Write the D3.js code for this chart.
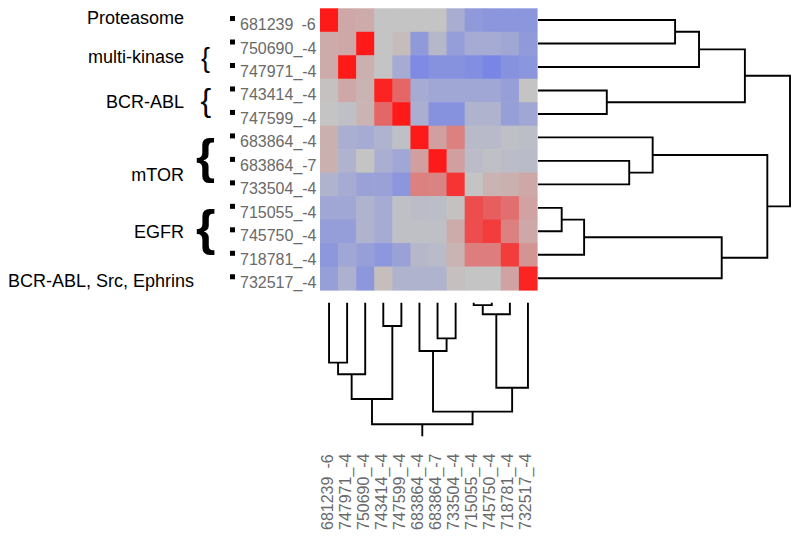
<!DOCTYPE html>
<html><head><meta charset="utf-8">
<script src="https://cdn.jsdelivr.net/npm/d3@7"></script>
<style>body{margin:0;background:#fff} svg{display:block}</style>
</head><body>
<svg id="chart" width="800" height="544"></svg>
<script>
// ---------- data ----------
const rowLabels = ["681239\u2002-6","750690_-4","747971_-4","743414_-4","747599_-4","683864_-4","683864_-7","733504_-4","715055_-4","745750_-4","718781_-4","732517_-4"];
const colLabels = ["681239\u2002-6","747971_-4","750690_-4","743414_-4","747599_-4","683864_-4","683864_-7","733504_-4","715055_-4","745750_-4","718781_-4","732517_-4"];
const values = [
  [1.0, 0.17, 0.15, 0, 0, 0, 0, -0.3, -0.55, -0.6, -0.6, -0.6],
  [0.15, 0.17, 1.0, 0, 0.05, -0.55, -0.15, -0.5, -0.33, -0.33, -0.38, -0.55],
  [0.15, 1.0, 0.12, 0, -0.33, -0.75, -0.65, -0.65, -0.7, -0.8, -0.65, -0.6],
  [0.02, 0.17, 0.1, 0.95, 0.55, -0.33, -0.38, -0.38, -0.38, -0.38, -0.48, 0],
  [0, -0.05, 0.1, 0.55, 1.0, -0.28, -0.65, -0.65, -0.22, -0.22, -0.48, -0.38],
  [0.12, -0.28, -0.33, -0.22, -0.05, 1.0, 0.22, 0.4, -0.13, -0.13, -0.05, -0.08],
  [0.12, -0.22, 0, -0.28, -0.38, 0.22, 1.0, 0.22, -0.1, -0.05, -0.1, -0.12],
  [-0.22, -0.33, -0.45, -0.45, -0.6, 0.4, 0.38, 0.85, 0, 0.1, 0.12, 0.17],
  [-0.38, -0.38, -0.22, -0.33, -0.05, -0.1, -0.08, 0.02, 0.7, 0.6, 0.5, 0.2],
  [-0.5, -0.5, -0.22, -0.33, -0.05, -0.05, -0.05, 0.15, 0.7, 0.8, 0.4, 0.17],
  [-0.58, -0.38, -0.48, -0.58, -0.45, -0.15, -0.12, 0.1, 0.42, 0.42, 0.8, 0.28],
  [-0.48, -0.25, -0.58, 0.04, -0.22, -0.22, -0.22, 0.03, 0, 0, 0.2, 0.95]
];
// merges: [childA, childB, height]; children >= 12 refer to earlier merges
const rowMerges = [[0,1,0.544],[12,2,0.639],[3,4,0.273],[13,14,0.821],[6,7,0.362],[5,16,0.455],[8,9,0.094],[18,10,0.183],[19,11,0.729],[17,20,0.91],[15,21,1.0]];
const colMerges = [[0,1,0.493],[12,2,0.589],[3,4,0.192],[13,14,0.792],[6,7,0.293],[5,16,0.397],[8,9,0.02],[18,10,0.095],[19,11,0.699],[17,20,0.896],[15,21,1.0]];
const groupNames = ["Proteasome","multi-kinase","BCR-ABL","mTOR","EGFR","BCR-ABL, Src, Ephrins"];
const groupFirstRow = [0,1,3,5,8,11];
const groupLastRow  = [0,2,4,7,10,11];

// ---------- layout ----------
const svg = d3.select("#chart");
const font = "'Liberation Sans', Arial, Helvetica, sans-serif";
const x = d3.scaleBand().domain(d3.range(colLabels.length)).range([320, 537]);
const y = d3.scaleBand().domain(d3.range(rowLabels.length)).range([8.3, 290]);
const color = d3.scaleLinear().domain([-1, 0, 1]).range(["#6677ee", "#c4c4c4", "#ff1a1a"]).clamp(true);

// heatmap
const cells = [];
values.forEach((row, i) => row.forEach((v, j) => cells.push({i, j, v})));
svg.append("g").selectAll("rect").data(cells).join("rect")
  .attr("x", d => x(d.j)).attr("y", d => y(d.i))
  .attr("width", x.bandwidth() + 0.6).attr("height", y.bandwidth() + 0.6)
  .attr("fill", d => color(d.v));

// dendrograms
function dendro(merges, leafPos) {
  const pos = leafPos.slice(), ht = leafPos.map(() => 0);
  const out = [];
  merges.forEach(([a, b, h]) => {
    out.push({a: pos[a], ha: ht[a], b: pos[b], hb: ht[b], h});
    pos.push((pos[a] + pos[b]) / 2); ht.push(h);
  });
  return {links: out, root: pos[pos.length - 1], rootH: ht[ht.length - 1]};
}
const lineStyle = g => g.attr("fill", "none").attr("stroke", "#000").attr("stroke-width", 1.9);

// right (rows)
const rowD = dendro(rowMerges, rowLabels.map((_, i) => y(i) + y.bandwidth() / 2));
const hx = d3.scaleLinear().domain([0, 1]).range([538, 790]);
svg.append("g").call(lineStyle).selectAll("path").data(rowD.links).join("path")
  .attr("d", d => `M${hx(d.ha)},${d.a}H${hx(d.h)}V${d.b}H${hx(d.hb)}`);

// bottom (columns)
const colD = dendro(colMerges, colLabels.map((_, j) => x(j) + x.bandwidth() / 2));
const hy = d3.scaleLinear().domain([0, 1]).range([302.7, 424.3]);
const gCol = svg.append("g").call(lineStyle);
gCol.selectAll("path").data(colD.links).join("path")
  .attr("d", d => `M${d.a},${hy(d.ha)}V${hy(d.h)}H${d.b}V${hy(d.hb)}`);
gCol.append("path").attr("d", `M${colD.root},${hy(colD.rootH)}V${hy(colD.rootH) + 12}`);

// row labels + markers
const gRow = svg.append("g");
gRow.selectAll("rect").data(rowLabels).join("rect")
  .attr("x", 230).attr("y", (d, i) => y(i) + y.bandwidth() / 2 - 4)
  .attr("width", 5).attr("height", 5).attr("fill", "#000");
gRow.selectAll("text").data(rowLabels).join("text")
  .attr("x", 240).attr("y", (d, i) => y(i) + y.bandwidth() / 2 + 10)
  .attr("font-family", font).attr("font-size", 16).attr("fill", "#6a6a6a")
  .text(d => d);

// column labels
svg.append("g").selectAll("text").data(colLabels).join("text")
  .attr("transform", (d, j) => `translate(${x(j) + x.bandwidth() / 2 + 3.5},530) rotate(-90)`)
  .attr("font-family", font).attr("font-size", 16).attr("fill", "#6a6a6a")
  .text(d => d);

// group annotations
const rc = i => y(i) + y.bandwidth() / 2;
const labelDy = [4, 8, 6, 20, 6.7, 9];
const labelX = [184, 184, 184, 184, 184, 194];
svg.append("g").selectAll("text").data(groupNames).join("text")
  .attr("x", (d, k) => labelX[k])
  .attr("y", (d, k) => (rc(groupFirstRow[k]) + rc(groupLastRow[k])) / 2 + labelDy[k])
  .attr("text-anchor", "end").attr("font-family", font).attr("font-size", 18).attr("fill", "#000")
  .text(d => d);

// braces for multi-row groups
const braceSize = {1: 27, 2: 32, 3: 49, 4: 50};
const braceDy = {1: 11.5, 2: 8.5, 3: 12.5, 4: 14};
const braceX = {1: 201, 2: 200.5, 3: 196, 4: 196};
const braceG = svg.append("g");
Object.keys(braceSize).forEach(k => {
  k = +k;
  braceG.append("text")
    .attr("x", braceX[k])
    .attr("y", (rc(groupFirstRow[k]) + rc(groupLastRow[k])) / 2 + braceDy[k])
    .attr("font-family", font).attr("font-size", braceSize[k])
    .attr("font-weight", k >= 3 ? "bold" : "normal").attr("fill", "#000")
    .text("{");
});
</script>
</body></html>
